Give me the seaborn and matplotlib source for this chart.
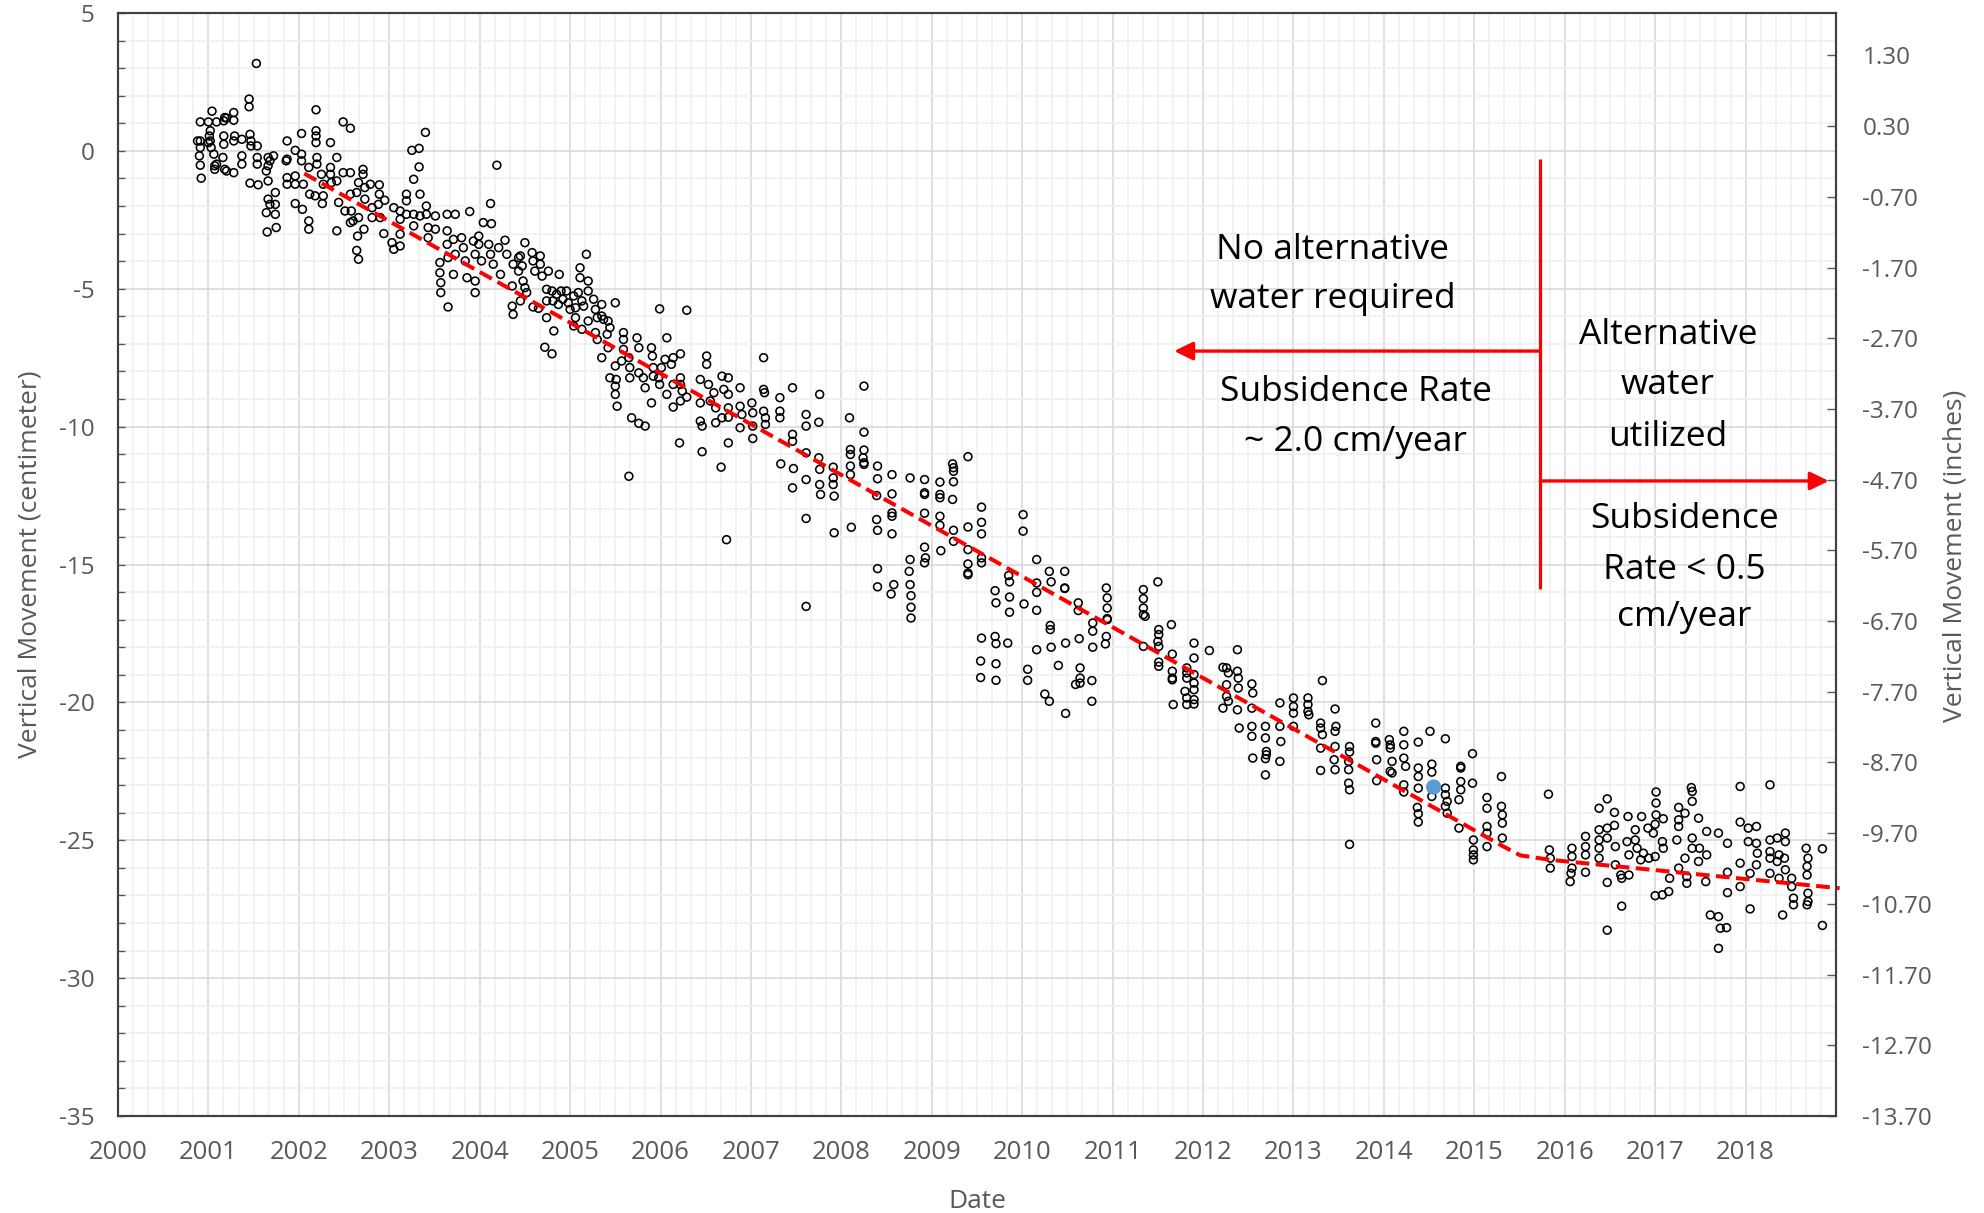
import numpy as np
import pandas as pd
import matplotlib
matplotlib.use("Agg")
import matplotlib.pyplot as plt
from matplotlib.ticker import FixedLocator, MultipleLocator, FormatStrFormatter
import seaborn as sns

# ---------------------------------------------------------------------------
# Survey measurements: decimal year and vertical movement (cm)
# ---------------------------------------------------------------------------
dates_2001_2004 = [
    2000.91, 2000.91, 2000.91, 2000.90, 2000.91, 2000.92, 2000.88,
    2001.00, 2001.02, 2001.01, 2001.02, 2001.03, 2001.04, 2001.06, 2001.07, 2001.07, 2001.00,
    2001.09, 2001.17, 2001.18, 2001.20, 2001.17, 2001.17, 2001.16, 2001.18, 2001.20, 2001.09,
    2001.28, 2001.28, 2001.29, 2001.28, 2001.37, 2001.37, 2001.37, 2001.28,
    2001.45, 2001.45, 2001.53, 2001.46, 2001.47, 2001.47, 2001.54, 2001.54, 2001.54, 2001.46, 2001.55,
    2001.66, 2001.68, 2001.66, 2001.64, 2001.66, 2001.66, 2001.68, 2001.64, 2001.74, 2001.74, 2001.74, 2001.65, 2001.75, 2001.72,
    2001.87, 2001.87, 2001.86, 2001.96, 2001.96, 2001.87, 2001.87, 2001.96, 2001.96, 2002.03, 2002.03, 2002.03, 2002.05, 2002.04, 2002.11, 2002.11,
    2002.11, 2002.12, 2002.18, 2002.19, 2002.19, 2002.19, 2002.19, 2002.20, 2002.20, 2002.25, 2002.27, 2002.27, 2002.26, 2002.35, 2002.35, 2002.35, 2002.42, 2002.42,
    2002.36, 2002.42, 2002.44, 2002.49, 2002.49, 2002.51, 2002.57, 2002.57, 2002.57, 2002.58, 2002.60, 2002.57,
    2002.66, 2002.64, 2002.66, 2002.65, 2002.64, 2002.66, 2002.71, 2002.71, 2002.73, 2002.73, 2002.72,
    2002.79, 2002.81, 2002.81, 2002.89, 2002.89, 2002.88, 2002.95, 2002.94, 2002.90,
    2003.05, 2003.03, 2003.05, 2003.12, 2003.12, 2003.12, 2003.12, 2003.19, 2003.19, 2003.19, 2003.25, 2003.27, 2003.27, 2003.27,
    2003.33, 2003.33, 2003.34, 2003.34, 2003.40, 2003.41, 2003.41, 2003.43, 2003.43, 2003.51, 2003.51,
    2003.56, 2003.56, 2003.57, 2003.57, 2003.64, 2003.64, 2003.64, 2003.65, 2003.65, 2003.71, 2003.73, 2003.73, 2003.71,
    2003.80, 2003.82, 2003.84, 2003.86, 2003.89, 2003.93, 2003.95, 2003.95, 2003.95, 2003.99, 2003.99,
    2004.04, 2004.12, 2004.13, 2004.02, 2004.10, 2004.12, 2004.15, 2004.19, 2004.21, 2004.23,
    2004.28, 2004.30, 2004.37, 2004.36, 2004.36, 2004.37, 2004.43, 2004.43,
]
cm_2001_2004 = [
    1.05, 0.36, 0.12, -0.18, -0.52, -0.99, 0.36,
    1.05, 0.73, 0.54, 0.36, 0.12, 1.44, -0.12, -0.54, -0.67, 0.30,
    1.05, 1.09, 1.21, 1.19, 0.54, 0.24, -0.24, -0.67, -0.73, -0.48,
    1.39, 1.11, 0.54, 0.36, 0.42, -0.18, -0.48, -0.79,
    1.88, 1.60, 3.17, 0.60, 0.36, 0.18, 0.18, -0.24, -0.48, -1.17, -1.23,
    -0.24, -0.36, -0.54, -0.73, -1.09, -1.75, -1.94, -2.24, -1.51, -1.94, -2.30, -2.94, -2.78, -0.18,
    0.36, -0.30, -0.36, 0.02, -0.91, -0.97, -1.21, -1.21, -1.91, 0.63, -0.12, -0.36, -1.21, -2.12, -2.54, -2.84,
    -0.60, -1.57, -1.63, 1.49, 0.73, 0.54, 0.30, -0.24, -0.48, -0.85, -1.21, -1.63, -1.91, 0.30, -0.60, -0.85, -0.24, -2.90,
    -1.15, -1.09, -1.87, 1.05, -0.79, -2.18, 0.82, -0.79, -1.57, -2.18, -2.54, -2.60,
    -1.15, -1.51, -2.42, -3.09, -3.61, -3.93, -0.67, -0.85, -1.33, -1.75, -2.84,
    -1.21, -2.06, -2.42, -1.23, -1.57, -1.94, -1.79, -3.00, -2.42,
    -2.06, -3.33, -3.57, -2.18, -2.48, -3.02, -3.45, -1.57, -1.81, -2.30, 0.02, -1.03, -2.30, -2.72,
    0.09, -0.58, -1.57, -2.36, 0.67, -2.00, -2.30, -2.78, -3.15, -2.36, -2.84,
    -4.05, -4.42, -4.78, -5.14, -2.30, -2.90, -3.39, -3.87, -5.66, -3.21, -2.30, -3.75, -4.48,
    -3.15, -3.51, -3.99, -4.60, -2.20, -3.27, -3.75, -4.72, -5.14, -3.09, -3.39,
    -2.60, -1.91, -2.64, -3.99, -3.39, -3.75, -4.11, -0.52, -3.51, -4.48,
    -3.24, -3.75, -4.11, -4.90, -5.63, -5.93, -3.87, -4.36,
]

dates_2004_2008 = [
    2004.50, 2004.45, 2004.47, 2004.48, 2004.45, 2004.50, 2004.52,
    2004.58, 2004.59, 2004.61, 2004.67, 2004.67, 2004.69, 2004.59, 2004.65, 2004.74, 2004.72, 2004.80, 2004.76, 2004.88, 2004.82,
    2004.74, 2004.74, 2004.80, 2004.81, 2004.85, 2004.87, 2004.90, 2004.92, 2004.96, 2004.98,
    2005.00, 2005.04, 2005.06, 2005.06, 2005.09, 2005.11, 2005.11, 2005.13, 2005.15, 2005.18,
    2005.20, 2005.20, 2005.20, 2005.04, 2005.13,
    2005.26, 2005.28, 2005.30, 2005.28, 2005.30, 2005.35, 2005.35, 2005.37, 2005.41, 2005.42,
    2005.44, 2005.42, 2005.35, 2005.50, 2005.50, 2005.51, 2005.50, 2005.50, 2005.52, 2005.44,
    2005.59, 2005.59, 2005.59, 2005.57,
    2005.65, 2005.66, 2005.66, 2005.68, 2005.74, 2005.76, 2005.76, 2005.81, 2005.83, 2005.83, 2005.76, 2005.65,
    2005.90, 2005.91, 2005.92, 2005.92, 2005.90, 2005.98, 2005.99, 2005.99, 2006.01, 2006.05, 2006.07, 2006.07, 2006.14, 2006.14, 2006.14,
    2006.12, 2006.22, 2006.22, 2006.22, 2006.24, 2006.22, 2006.21, 2006.29, 2006.29,
    2006.44, 2006.44, 2006.44, 2006.46, 2006.46, 2006.51, 2006.51, 2006.53, 2006.55, 2006.59, 2006.61, 2006.61, 2006.68, 2006.67, 2006.68,
    2006.70, 2006.75, 2006.75, 2006.75, 2006.75, 2006.75, 2006.88, 2006.88, 2006.88, 2006.90, 2007.01, 2007.02, 2007.02, 2007.02,
    2007.14, 2007.14, 2007.15, 2007.14, 2007.16, 2007.16,
    2007.32, 2007.32, 2007.32, 2007.33,
    2007.46, 2007.46, 2007.46, 2007.47, 2007.46,
    2007.61, 2007.61, 2007.61, 2007.61, 2007.61,
    2007.76, 2007.75, 2007.75, 2007.76, 2007.76, 2007.77,
    2007.91, 2007.91, 2007.92, 2007.91,
    2006.73,
]
cm_2004_2008 = [
    -3.33, -3.81, -4.17, -4.72, -5.44, -4.96, -5.14,
    -3.69, -3.99, -4.36, -3.81, -4.11, -4.54, -5.66, -5.71, -6.05, -7.12, -7.36, -4.36, -4.48, -6.53,
    -5.02, -5.44, -5.08, -5.44, -5.20, -5.57, -5.08, -5.38, -5.08, -5.51,
    -5.75, -5.26, -5.69, -6.05, -5.14, -4.24, -4.60, -5.44, -5.63, -3.75,
    -4.72, -5.08, -6.17, -6.35, -6.47,
    -5.38, -5.75, -6.05, -6.59, -6.84, -5.57, -5.99, -6.11, -6.65, -6.17,
    -6.41, -7.14, -7.50, -5.51, -7.80, -8.29, -8.53, -8.83, -9.26, -8.23,
    -6.59, -6.84, -7.20, -7.62,
    -7.50, -7.86, -8.23, -9.68, -6.78, -7.14, -8.05, -8.23, -8.59, -9.98, -9.88, -11.80,
    -7.14, -7.44, -7.86, -8.17, -9.14, -8.23, -8.47, -5.73, -7.86, -7.56, -6.78, -8.83, -7.50, -8.47, -9.29,
    -7.74, -7.36, -8.23, -8.47, -8.71, -9.07, -10.59, -5.78, -8.93,
    -8.29, -9.14, -9.80, -9.98, -10.91, -7.44, -7.74, -8.47, -9.07, -8.77, -9.32, -9.86, -8.17, -11.47, -9.68,
    -8.65, -8.23, -8.83, -9.32, -9.66, -10.59, -8.59, -9.26, -10.04, -9.56, -9.14, -9.50, -9.98, -10.43,
    -7.50, -8.65, -8.77, -9.44, -9.68, -9.92,
    -8.95, -9.44, -9.68, -11.35,
    -8.59, -10.28, -10.53, -11.52, -12.22,
    -9.56, -9.98, -10.95, -11.92, -13.33,
    -8.83, -9.84, -11.13, -11.55, -12.10, -12.46,
    -11.47, -12.10, -12.52, -11.86,
    -14.10,
]

dates_2008_2011 = [
    2007.92, 2007.61,
    2008.09, 2008.25, 2008.25, 2008.25, 2008.25, 2008.25, 2008.10, 2008.10, 2008.10, 2008.10, 2008.11, 2008.24,
    2008.40, 2008.40, 2008.39, 2008.39, 2008.40, 2008.40, 2008.40,
    2008.56, 2008.56, 2008.56, 2008.56, 2008.56, 2008.58, 2008.55,
    2008.76, 2008.76, 2008.75, 2008.76, 2008.77, 2008.77, 2008.77,
    2008.92, 2008.92, 2008.92, 2008.92, 2008.92, 2008.93, 2008.92,
    2009.09, 2009.09, 2009.09, 2009.09, 2009.09, 2009.10,
    2009.23, 2009.24, 2009.24, 2009.24, 2009.23, 2009.24, 2009.24,
    2009.40, 2009.40, 2009.40, 2009.40, 2009.40, 2009.40,
    2009.55, 2009.55, 2009.55, 2009.55, 2009.55,
    2009.70, 2009.71, 2009.55, 2009.70, 2009.71, 2009.84, 2009.85, 2009.86, 2009.86, 2009.86,
    2010.01, 2010.01, 2010.02, 2010.16, 2010.16, 2010.16, 2010.16, 2010.16,
    2010.30, 2010.32, 2010.31, 2010.31, 2010.32, 2010.47, 2010.47, 2010.47, 2010.48,
    2010.62, 2010.62, 2010.63, 2010.78, 2010.78, 2010.78,
    2010.93, 2010.94, 2010.94, 2010.94, 2010.94, 2010.93, 2010.92,
    2009.54, 2009.54, 2009.71, 2009.71, 2010.06, 2010.06, 2010.25, 2010.30, 2010.40, 2010.48, 2010.59,
]
cm_2008_2011 = [
    -13.85, -16.52,
    -9.68, -8.53, -10.20, -10.85, -11.31, -11.37, -10.83, -11.01, -11.43, -11.74, -13.65, -11.13,
    -11.43, -11.89, -12.50, -13.37, -13.76, -15.15, -15.81,
    -11.74, -12.44, -13.13, -13.25, -13.89, -15.73, -16.07,
    -11.86, -14.82, -15.25, -15.73, -16.13, -16.55, -16.94,
    -11.92, -12.40, -12.46, -13.14, -14.37, -14.76, -14.94,
    -12.01, -12.46, -12.58, -13.25, -13.58, -14.50,
    -11.35, -11.49, -11.62, -12.00, -12.64, -13.76, -14.16,
    -11.09, -13.64, -14.46, -14.98, -15.31, -15.37,
    -12.92, -13.47, -13.89, -14.76, -14.94,
    -15.95, -16.39, -17.67, -17.61, -17.87, -17.85, -15.40, -15.63, -16.18, -16.73,
    -13.19, -13.79, -16.43, -14.82, -15.67, -16.01, -16.66, -18.09,
    -15.25, -15.63, -17.21, -17.36, -18.00, -15.25, -15.85, -15.87, -17.85,
    -16.39, -16.67, -17.69, -17.12, -17.42, -18.00,
    -15.85, -16.21, -16.58, -16.96, -17.00, -17.61, -17.88,
    -18.50, -19.10, -18.60, -19.20, -18.80, -19.20, -19.70, -19.96, -18.66, -20.40, -19.35,
]

dates_2011_2014 = [
    2010.64, 2010.64, 2010.64, 2010.77, 2010.77,
    2011.34, 2011.34, 2011.34, 2011.34, 2011.36, 2011.34,
    2011.50, 2011.51, 2011.51, 2011.50, 2011.51, 2011.51, 2011.51,
    2011.65, 2011.66, 2011.66, 2011.66, 2011.66, 2011.67,
    2011.82, 2011.82, 2011.82, 2011.80, 2011.82, 2011.82,
    2011.90, 2011.90, 2011.90, 2011.90, 2011.90, 2011.90, 2011.90,
    2012.07, 2012.22, 2012.22, 2012.26, 2012.26, 2012.26, 2012.28, 2012.28,
    2012.38, 2012.38, 2012.39, 2012.39, 2012.38, 2012.40,
    2012.54, 2012.55, 2012.54, 2012.54, 2012.54, 2012.55,
    2012.69, 2012.69, 2012.70, 2012.70, 2012.69, 2012.69,
    2012.85, 2012.85, 2012.86, 2012.85,
    2013.00, 2013.00, 2013.00, 2013.00,
    2013.16, 2013.16, 2013.16, 2013.17,
    2013.32, 2013.30, 2013.30, 2013.32, 2013.30, 2013.30,
    2013.46, 2013.47, 2013.46, 2013.46, 2013.45, 2013.46,
    2013.62, 2013.62, 2013.61, 2013.61, 2013.61, 2013.62, 2013.62,
    2013.91, 2013.91, 2013.91, 2013.92, 2013.92,
    2014.06, 2014.07, 2014.07, 2014.09, 2014.07, 2014.09,
]
cm_2011_2014 = [
    -18.75, -19.12, -19.30, -19.21, -19.96,
    -15.91, -16.24, -16.58, -16.82, -16.88, -17.97,
    -15.63, -17.36, -17.54, -17.79, -17.97, -18.54, -18.69,
    -17.18, -18.25, -18.87, -19.12, -19.18, -20.08,
    -18.75, -18.93, -19.12, -19.60, -19.84, -20.08,
    -17.85, -18.39, -18.99, -19.30, -19.54, -19.90, -20.06,
    -18.12, -18.73, -20.21, -18.75, -19.36, -19.78, -18.93, -19.96,
    -18.09, -18.87, -19.12, -19.48, -20.27, -20.93,
    -19.33, -19.66, -20.21, -20.87, -21.23, -22.02,
    -20.87, -21.29, -21.78, -21.90, -22.04, -22.63,
    -20.02, -20.87, -21.42, -22.14,
    -19.84, -20.15, -20.39, -20.87,
    -19.84, -20.08, -20.33, -20.45,
    -19.21, -20.75, -20.93, -21.17, -21.66, -22.47,
    -20.24, -20.87, -21.05, -21.60, -22.08, -22.44,
    -21.60, -21.80, -22.14, -22.44, -22.93, -23.17, -25.15,
    -20.75, -21.42, -21.48, -22.08, -22.84,
    -21.35, -21.54, -21.66, -22.14, -22.50, -22.56,
]

dates_2014_2019 = [
    2014.22, 2014.22, 2014.22, 2014.24, 2014.22, 2014.22,
    2014.38, 2014.38, 2014.38, 2014.38, 2014.37, 2014.38, 2014.38,
    2014.51, 2014.53, 2014.53, 2014.53,
    2014.68, 2014.68, 2014.68, 2014.70, 2014.68, 2014.70,
    2014.85, 2014.85, 2014.85, 2014.85, 2014.83, 2014.83,
    2014.98, 2014.98, 2014.99, 2014.99, 2014.99, 2014.99,
    2015.14, 2015.14, 2015.14, 2015.14, 2015.14,
    2015.30, 2015.30, 2015.31, 2015.31, 2015.31,
    2015.82, 2015.83, 2015.84, 2015.84,
    2016.08, 2016.08, 2016.08, 2016.07, 2016.06,
    2016.23, 2016.23, 2016.23, 2016.23,
    2016.38, 2016.38, 2016.38, 2016.38, 2016.38,
    2016.47, 2016.47, 2016.47, 2016.47, 2016.47,
    2016.55, 2016.55, 2016.56, 2016.56, 2016.62, 2016.63, 2016.63,
    2016.70, 2016.69, 2016.71, 2016.71,
    2016.78, 2016.78, 2016.80, 2016.85, 2016.84, 2016.87, 2016.92, 2016.93, 2016.98,
    2017.00, 2017.01, 2017.01, 2017.01, 2017.00, 2017.08, 2017.09, 2017.09, 2017.00, 2017.08, 2017.15, 2017.16,
    2017.26, 2017.26, 2017.26, 2017.24, 2017.26, 2017.33, 2017.33, 2017.35, 2017.35,
    2017.40, 2017.41, 2017.41, 2017.41, 2017.41, 2017.48, 2017.49, 2017.48, 2017.57, 2017.57, 2017.56,
    2017.61, 2017.70, 2017.70, 2017.72, 2017.70, 2017.79, 2017.80, 2017.80, 2017.80,
    2017.94, 2017.94, 2017.94, 2017.94,
    2018.03, 2018.03, 2018.05, 2018.05, 2018.12, 2018.12, 2018.13, 2018.12,
    2018.27, 2018.27, 2018.27, 2018.27, 2018.27,
    2018.35, 2018.37, 2018.35, 2018.37, 2018.41,
    2018.44, 2018.44, 2018.43, 2018.44, 2018.51, 2018.51, 2018.53, 2018.53,
    2018.67, 2018.69, 2018.68, 2018.68, 2018.69, 2018.69, 2018.68, 2018.85, 2018.85,
]
cm_2014_2019 = [
    -21.05, -21.54, -22.02, -22.32, -22.99, -23.25,
    -21.44, -22.38, -22.69, -23.11, -23.81, -24.04, -24.34,
    -21.05, -22.24, -22.53, -23.41,
    -21.32, -23.11, -23.35, -23.59, -23.77, -24.02,
    -22.32, -22.38, -22.87, -23.17, -23.53, -24.56,
    -21.86, -22.93, -24.99, -25.35, -25.53, -25.71,
    -23.45, -23.84, -24.50, -24.74, -25.23,
    -22.69, -23.77, -24.08, -24.38, -24.92,
    -23.33, -25.35, -25.65, -26.01,
    -25.29, -25.59, -26.01, -26.20, -26.50,
    -24.86, -25.23, -25.53, -26.16,
    -23.84, -24.62, -24.99, -25.29, -25.65,
    -23.50, -24.56, -24.92, -26.53, -28.26,
    -23.99, -24.46, -25.23, -25.89, -26.26, -26.38, -27.39,
    -24.14, -25.05, -25.53, -26.26,
    -24.62, -24.99, -25.29, -24.14, -25.71, -25.47, -24.56, -25.65, -24.74,
    -24.42, -23.25, -23.65, -24.08, -25.59, -25.05, -25.29, -24.22, -27.01, -26.98, -26.86, -26.38,
    -23.81, -24.26, -24.50, -24.99, -26.01, -24.02, -25.65, -26.56, -26.32,
    -23.09, -23.23, -23.59, -24.92, -25.29, -24.20, -25.29, -25.77, -24.68, -25.53, -26.50,
    -27.71, -24.74, -27.77, -28.19, -28.92, -28.17, -25.11, -26.16, -26.90,
    -23.05, -24.34, -25.83, -26.68,
    -24.56, -25.05, -26.20, -27.49, -24.50, -25.11, -25.47, -25.89,
    -22.99, -24.99, -25.41, -25.65, -26.20,
    -24.92, -25.53, -25.77, -26.38, -27.71,
    -24.74, -25.05, -25.65, -26.07, -26.38, -26.68, -27.10, -27.34,
    -25.29, -25.65, -25.95, -26.26, -26.92, -27.22, -27.34, -25.31, -28.09,
]

# Highlighted single measurement
highlight_date = [2014.55]
highlight_cm = [-23.07]

# Subsidence trend line (cm)
trend_dates = [2002.06, 2015.29, 2015.51, 2015.84, 2019.04]
trend_cm = [-0.82, -25.17, -25.55, -25.71, -26.74]

# Year tick labels and right-hand (inch) tick values
year_ticks = list(range(2000, 2019))
inch_ticks = [round(-13.70 + k, 2) for k in range(16)]
inch_limits = (-13.70, 1.90)

# ---------------------------------------------------------------------------
sns.set_style("white")
plt.rcParams["font.family"] = ["Open Sans", "DejaVu Sans"]
plt.rcParams["axes.unicode_minus"] = False

periods = [
    (dates_2001_2004, cm_2001_2004),
    (dates_2004_2008, cm_2004_2008),
    (dates_2008_2011, cm_2008_2011),
    (dates_2011_2014, cm_2011_2014),
    (dates_2014_2019, cm_2014_2019),
]
survey = pd.concat(
    [pd.DataFrame({"date": d, "cm": v}) for d, v in periods], ignore_index=True
)

W, H = 1984, 1213
fig = plt.figure(figsize=(W / 100, H / 100), dpi=100)
left, right, top, bottom = 118, 1836, 13, 1116
ax = fig.add_axes([left / W, 1 - bottom / H, (right - left) / W, (bottom - top) / H])

GRAY = "#595959"
RED = "#ff0000"

ax.set_xlim(2000, 2019)
ax.set_ylim(-35, 5)
ax.xaxis.set_major_locator(FixedLocator(year_ticks))
ax.xaxis.set_minor_locator(MultipleLocator(1 / 6))
ax.xaxis.set_major_formatter(FormatStrFormatter("%d"))
ax.yaxis.set_major_locator(MultipleLocator(5))
ax.yaxis.set_minor_locator(MultipleLocator(1))
ax.yaxis.set_major_formatter(FormatStrFormatter("%d"))

ax.set_axisbelow(True)
ax.grid(which="minor", color="#f0f0f0", linewidth=1.2)
ax.grid(which="major", color="#d9d9d9", linewidth=1.2)

ax.tick_params(axis="x", which="major", direction="in", length=6.5, width=1,
               color=GRAY, labelcolor=GRAY, labelsize=18.5, pad=17)
ax.tick_params(axis="x", which="minor", direction="in", length=4.2, width=1, color=GRAY)
ax.tick_params(axis="y", which="both", direction="in", length=5, width=1,
               color=GRAY, labelcolor=GRAY, labelsize=17.5, pad=17)

for sp in ax.spines.values():
    sp.set_color("#404040")
    sp.set_linewidth(1.5)

# measurements
sns.scatterplot(data=survey, x="date", y="cm", ax=ax, marker="o", s=32,
                facecolors="none", edgecolor="black", linewidth=1.15,
                zorder=3, legend=False)

# trend
sns.lineplot(x=trend_dates, y=trend_cm, ax=ax, color=RED, linewidth=2.9,
             estimator=None, sort=False, zorder=4)
trend_line = ax.lines[-1]
trend_line.set_dashes([3.4, 1.6])
trend_line.set_clip_on(False)

sns.scatterplot(x=highlight_date, y=highlight_cm, ax=ax, color="#5b9bd5", s=120,
                edgecolor="none", zorder=5, legend=False)

ax.set_xlabel("Date", fontsize=19, color=GRAY)
ax.xaxis.set_label_coords(0.5, -0.066)
ax.set_ylabel("Vertical Movement (centimeter)", fontsize=19, color=GRAY, va="center")
ax.yaxis.set_label_coords(-0.0515, 0.5)

# divider and arrows
split_year = 2015.73
ax.plot([split_year, split_year], [-0.3, -15.9], color=RED, linewidth=2.3,
        solid_capstyle="butt", zorder=6)
arrow_kw = dict(arrowstyle="-|>,head_length=0.45,head_width=0.22", color=RED,
                lw=2.4, mutation_scale=25, shrinkA=0, shrinkB=0)
ax.annotate("", xy=(2011.68, -7.26), xytext=(split_year, -7.26), arrowprops=arrow_kw, zorder=6)
ax.annotate("", xy=(2018.92, -11.97), xytext=(split_year, -11.97), arrowprops=arrow_kw, zorder=6)

txt = dict(ha="center", va="baseline", fontsize=25.5, color="black", zorder=7)
ax.text(2013.43, -3.92, "No alternative", **txt)
ax.text(2013.43, -5.70, "water required", **txt)
ax.text(2013.69, -9.07, "Subsidence Rate", **txt)
ax.text(2013.69, -10.89, "~ 2.0 cm/year", **txt)
ax.text(2017.14, -7.01, "Alternative", **txt)
ax.text(2017.14, -8.82, "water", **txt)
ax.text(2017.14, -10.71, "utilized", **txt)
ax.text(2017.32, -13.68, "Subsidence", **txt)
ax.text(2017.32, -15.54, "Rate < 0.5", **txt)
ax.text(2017.32, -17.24, "cm/year", **txt)

# inch axis
ax2 = ax.twinx()
ax2.set_ylim(*inch_limits)
ax2.yaxis.set_major_locator(FixedLocator(inch_ticks))
ax2.yaxis.set_major_formatter(FormatStrFormatter("%.2f"))
ax2.yaxis.set_minor_locator(FixedLocator([]))
ax2.grid(False)
ax2.tick_params(axis="y", which="major", direction="in", length=6.7, width=1,
                color=GRAY, labelcolor=GRAY, labelsize=17.5, pad=19)
for sp in ax2.spines.values():
    sp.set_color("#404040")
    sp.set_linewidth(1.5)
ax2.set_ylabel("Vertical Movement (inches)", fontsize=19, color=GRAY,
               rotation=90, va="center")
ax2.yaxis.set_label_coords(1.0692, 0.508)

fig.savefig("out.png", dpi=100)
